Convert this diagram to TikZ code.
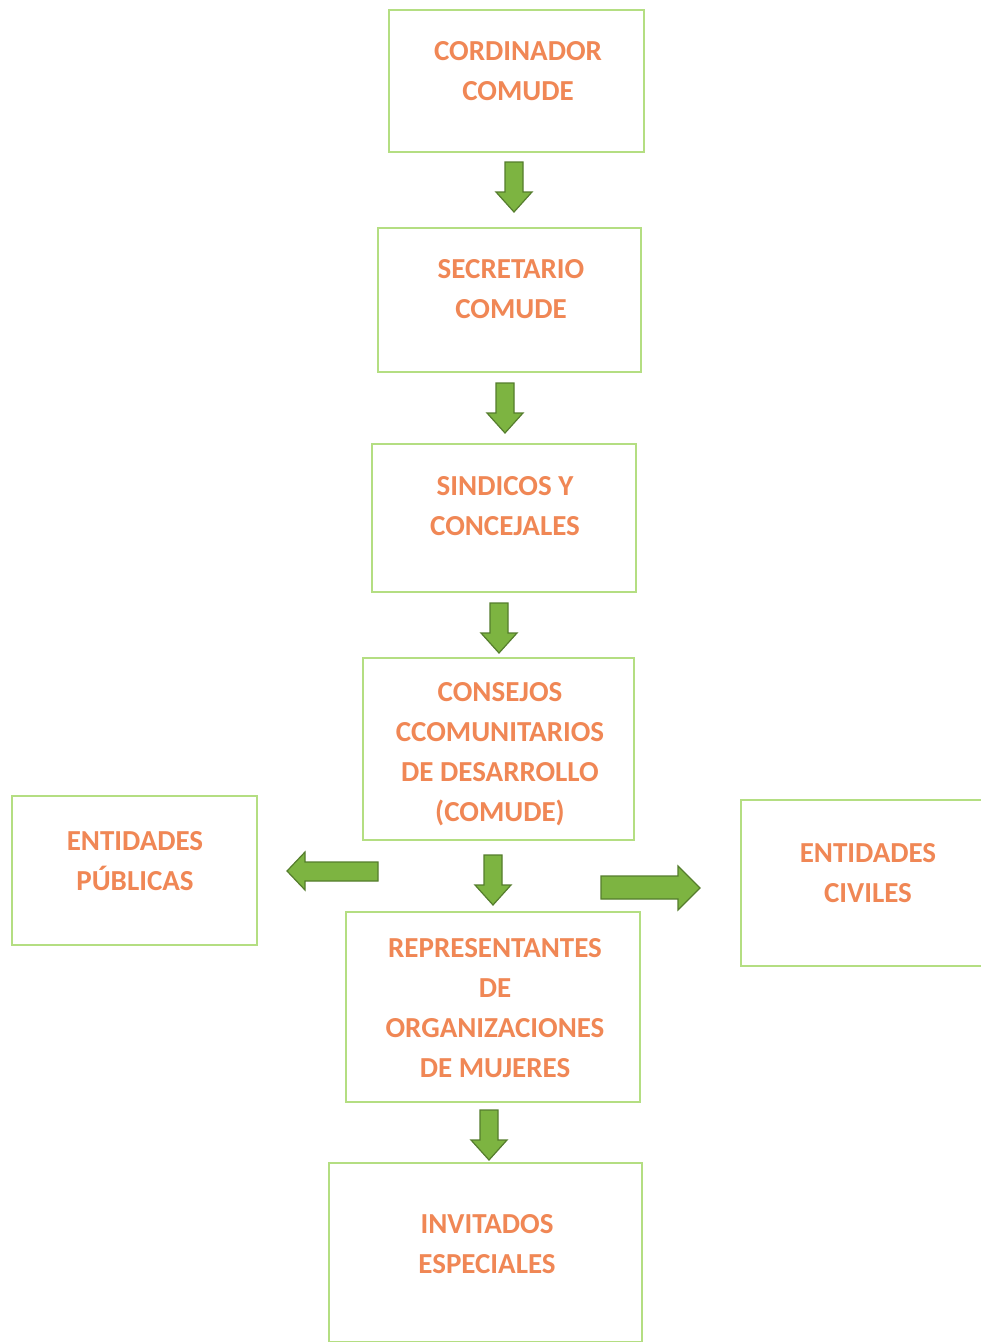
\documentclass[tikz,border=0pt]{standalone}
\usepackage{fontspec}
\setmainfont{Carlito}
\usetikzlibrary{positioning}
\definecolor{boxgreen}{RGB}{180,222,130}
\definecolor{arrfill}{RGB}{125,180,65}
\definecolor{arrline}{RGB}{85,125,45}
\definecolor{txtorange}{RGB}{240,135,85}
\tikzset{
  orgbox/.style={draw=boxgreen, line width=2pt, fill=white},
  orgtext/.style={text=txtorange, font=\fontsize{29}{40}\selectfont\bfseries, align=center, inner sep=0pt},
  blockarrow/.style={fill=arrfill, draw=arrline, line width=1.2pt, line join=miter}
}
\begin{document}
\begin{tikzpicture}[x=1pt,y=-1pt]
\useasboundingbox[fill=white] (0,0) rectangle (981,1342);
% boxes
\draw[orgbox] (389,10) rectangle (644,152);
\node[orgtext] (b1) at (518,71) {CORDINADOR\\COMUDE};
\draw[orgbox] (378,228) rectangle (641,372);
\node[orgtext] (b2) at (511,289) {SECRETARIO\\COMUDE};
\draw[orgbox] (372,444) rectangle (636,592);
\node[orgtext] (b3) at (505,506) {SINDICOS Y\\CONCEJALES};
\draw[orgbox] (363,658) rectangle (634,840);
\node[orgtext] (b4) at (500,754) {CONSEJOS\\CCOMUNITARIOS\\DE DESARROLLO\\(COMUDE)};
\draw[orgbox] (346,912) rectangle (640,1102);
\node[orgtext] (b5) at (495,1008) {REPRESENTANTES\\DE\\ORGANIZACIONES\\DE MUJERES};
\draw[orgbox] (329,1163) rectangle (642,1342);
\node[orgtext] (b6) at (487,1244) {INVITADOS\\ESPECIALES};
\draw[orgbox] (12,796) rectangle (257,945);
\node[orgtext] (b7) at (135,861) {ENTIDADES\\PÚBLICAS};
\draw[orgbox] (741,800) rectangle (985,966);
\node[orgtext] (b8) at (868,873) {ENTIDADES\\CIVILES};
% down arrows
\foreach \cx/\ty in {514/162, 505/383, 499/603, 493/855, 489/1110}{
  \draw[blockarrow] (\cx-9,\ty) -- (\cx+9,\ty) -- (\cx+9,\ty+30) -- (\cx+18,\ty+30)
    -- (\cx,\ty+50) -- (\cx-18,\ty+30) -- (\cx-9,\ty+30) -- cycle;
}
% left arrow
\draw[blockarrow] (378,862) -- (305,862) -- (305,852) -- (287,871) -- (305,890) -- (305,881) -- (378,881) -- cycle;
% right arrow
\draw[blockarrow] (601,876) -- (678,876) -- (678,866) -- (700,888) -- (678,910) -- (678,899) -- (601,899) -- cycle;
\end{tikzpicture}
\end{document}
